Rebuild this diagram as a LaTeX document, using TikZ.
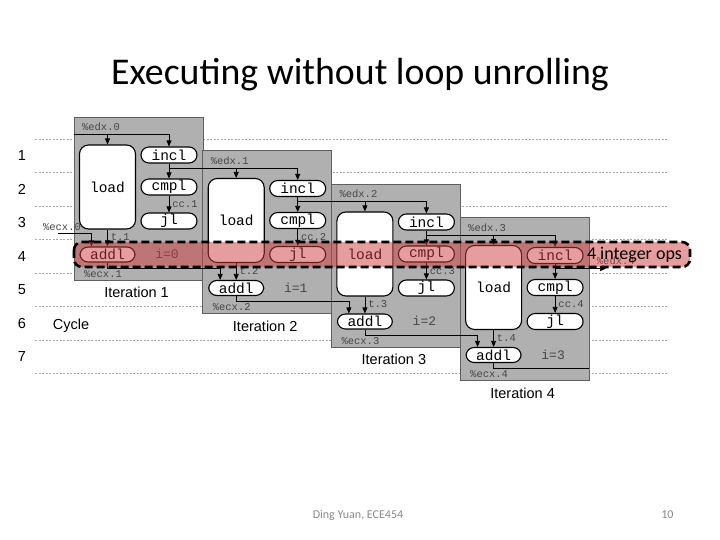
\documentclass[tikz,border=0pt]{standalone}
\usepackage{fontspec}
\setmainfont{Carlito}
\newfontfamily\monofam{Liberation Mono}
\newfontfamily\arialfam{Liberation Sans}
\usetikzlibrary{arrows.meta}

\definecolor{boxgray}{RGB}{176,176,176}
\definecolor{boxline}{RGB}{95,95,95}
\definecolor{labgray}{RGB}{70,70,70}
\definecolor{bandred}{RGB}{205,60,60}
\definecolor{footgray}{RGB}{137,137,137}
\definecolor{rowgray}{RGB}{170,170,170}

\begin{document}
\begin{tikzpicture}[x=1pt,y=-1pt,
  iter/.style={draw=boxline,fill=boxgray,line width=0.8pt},
  op/.style={draw,line width=1.1pt,fill=white,inner sep=0pt,minimum width=56pt,minimum height=16pt,rounded corners=8pt,font=\monofam\fontsize{14.5}{15}\selectfont},
  loadbox/.style={op,minimum height=84pt,rounded corners=9pt},
  reg/.style={inner sep=0pt,text=labgray,font=\monofam\fontsize{10.5}{11}\selectfont},
  ival/.style={inner sep=0pt,text=labgray,font=\monofam\fontsize{13}{14}\selectfont},
  wire/.style={line width=0.7pt},
  arr/.style={wire,-{Triangle[length=6pt,width=5pt]}},
  cyc/.style={inner sep=0pt,font=\arialfam\fontsize{14.5}{16}\selectfont},
  rowline/.style={rowgray,line width=0.5pt,dash pattern=on 2pt off 1.5pt},
  band/.style={draw,line width=2.6pt,dash pattern=on 8pt off 4pt,rounded corners=8pt,fill=bandred,fill opacity=0.5}]
\useasboundingbox (0,0) rectangle (720,540);

\node[font=\fontsize{37.8}{45}\selectfont] (title) at (360,75) {Executing without loop unrolling};

% cycle rows
\draw[rowline] (35,139) -- (667,139);
\draw[rowline] (35,172.5) -- (667,172.5);
\draw[rowline] (35,206) -- (667,206);
\draw[rowline] (35,239.5) -- (667,239.5);
\draw[rowline] (35,273) -- (667,273);
\draw[rowline] (35,306.5) -- (667,306.5);
\draw[rowline] (35,340) -- (667,340);
\draw[rowline] (35,373.5) -- (667,373.5);
\node[cyc] (c1) at (22,156) {1};
\node[cyc] (c2) at (22,189.5) {2};
\node[cyc] (c3) at (22,223) {3};
\node[cyc] (c4) at (22,256.5) {4};
\node[cyc] (c5) at (22,290) {5};
\node[cyc] (c6) at (22,323.5) {6};
\node[cyc] (c7) at (22,357) {7};
\node[cyc] (cycle) at (71,326) {Cycle};

% iterations
\draw[iter] (74,117) rectangle (203,280);
\draw[iter] (202.7,150.5) rectangle (331.7,313.5);
\draw[iter] (331.4,184) rectangle (460.4,347);
\draw[iter] (460.1,217.5) rectangle (589.1,380.5);

\node[loadbox] (load1) at (107.5,187) {load};
\node[op] (incl1) at (169,155) {incl};
\node[op] (cmpl1) at (169,187) {cmpl};
\node[op] (jl1) at (169,221) {jl};
\node[op,minimum width=55pt,minimum height=15pt] (addl1) at (107.5,254.5) {addl};
\node[ival] (i1) at (167,254) {i=0};

\node[loadbox] (load2) at (236.2,220.5) {load};
\node[op] (incl2) at (297.7,188.5) {incl};
\node[op] (cmpl2) at (297.7,220.5) {cmpl};
\node[op] (jl2) at (297.7,254.5) {jl};
\node[op,minimum width=55pt,minimum height=15pt] (addl2) at (236.2,288) {addl};
\node[ival] (i2) at (295.7,287.5) {i=1};

\node[loadbox] (load3) at (364.9,254) {load};
\node[op] (incl3) at (426.4,222) {incl};
\node[op] (cmpl3) at (426.4,254) {cmpl};
\node[op] (jl3) at (426.4,288) {jl};
\node[op,minimum width=55pt,minimum height=15pt] (addl3) at (364.9,321.5) {addl};
\node[ival] (i3) at (424.4,321) {i=2};

\node[loadbox] (load4) at (493.6,287.5) {load};
\node[op] (incl4) at (555.1,255.5) {incl};
\node[op] (cmpl4) at (555.1,287.5) {cmpl};
\node[op] (jl4) at (555.1,321.5) {jl};
\node[op,minimum width=55pt,minimum height=15pt] (addl4) at (493.6,355) {addl};
\node[ival] (i4) at (553.1,354.5) {i=3};

% register chains
\coordinate (edx0) at (74,134);
\coordinate (br1) at (169,168);
\coordinate (br2) at (297.7,201.5);
\coordinate (br3) at (426.4,235);
\coordinate (br4) at (555.1,268.5);
\coordinate (edxend) at (606,268.5);
\coordinate (ecx0) at (58,233);
\coordinate (ecx1) at (107.5,268);
\coordinate (ecx2) at (236.2,301.5);
\coordinate (ecx3) at (364.9,335);
\coordinate (ecx4) at (493.6,368.5);
\coordinate (ecxend) at (589.1,368.5);

\draw[arr] (edx0) -| (incl1.north);
\draw[arr] (load1.north |- edx0) -- (load1.north);
\draw[arr] (br1) -| (incl2.north);
\draw[arr] (load2.north |- br1) -- (load2.north);
\draw[arr] (br2) -| (incl3.north);
\draw[arr] (load3.north |- br2) -- (load3.north);
\draw[arr] (br3) -| (incl4.north);
\draw[arr] (load4.north |- br3) -- (load4.north);
\draw[arr] (br4) -- (edxend);

\draw[arr] (incl1) -- (cmpl1);
\draw[arr] (incl2) -- (cmpl2);
\draw[arr] (incl3) -- (cmpl3);
\draw[arr] (incl4) -- (cmpl4);
\draw[arr] (cmpl1) -- (jl1) node[reg,midway,right=3pt] {cc.1};
\draw[arr] (cmpl2) -- (jl2) node[reg,midway,right=3pt] {cc.2};
\draw[arr] (cmpl3) -- (jl3) node[reg,midway,right=3pt] {cc.3};
\draw[arr] (cmpl4) -- (jl4) node[reg,midway,right=3pt] {cc.4};
\draw[arr] (load1) -- (addl1) node[reg,pos=0.45,right=3pt] {t.1};
\draw[arr] (load2) -- (addl2) node[reg,pos=0.45,right=3pt] {t.2};
\draw[arr] (load3) -- (addl3) node[reg,pos=0.45,right=3pt] {t.3};
\draw[arr] (load4) -- (addl4) node[reg,pos=0.45,right=3pt] {t.4};

\draw[arr] (ecx0) -| ([xshift=12pt]addl1.north west);
\draw[arr] (addl1.south) -- (ecx1) -| ([xshift=12pt]addl2.north west);
\draw[arr] (addl2.south) -- (ecx2) -| ([xshift=12pt]addl3.north west);
\draw[arr] (addl3.south) -- (ecx3) -| ([xshift=12pt]addl4.north west);
\draw[wire] (addl4.south) -- (ecx4) -- (ecxend);

\node[reg] (edxl0) at (101,127) {\%edx.0};
\node[reg] (edxl1) at (229.7,160.5) {\%edx.1};
\node[reg] (edxl2) at (358.4,194) {\%edx.2};
\node[reg] (edxl3) at (487.1,227.5) {\%edx.3};
\node[reg] (edxl4) at (615.8,261) {\%edx.4};
\node[reg] (ecxl0) at (62,227) {\%ecx.0};
\node[reg] (ecxl1) at (103,274) {\%ecx.1};
\node[reg] (ecxl2) at (231.7,307.5) {\%ecx.2};
\node[reg] (ecxl3) at (360.4,341) {\%ecx.3};
\node[reg] (ecxl4) at (489.1,374.5) {\%ecx.4};

\node[cyc] (it1) at (136.5,292.5) {Iteration 1};
\node[cyc] (it2) at (265.2,326) {Iteration 2};
\node[cyc] (it3) at (393.9,359.5) {Iteration 3};
\node[cyc] (it4) at (522.6,393) {Iteration 4};

% integer ops in cycle 4
\draw[band] (74,242) rectangle (690,267);
\node[font=\fontsize{18}{20}\selectfont] (intops) at (634.5,255) {4 integer ops};

\node[text=footgray,font=\fontsize{12}{14}\selectfont] (foot) at (358,515) {Ding Yuan, ECE454};
\node[text=footgray,font=\fontsize{12}{14}\selectfont,anchor=east] (page) at (677,515) {10};
\end{tikzpicture}
\end{document}
